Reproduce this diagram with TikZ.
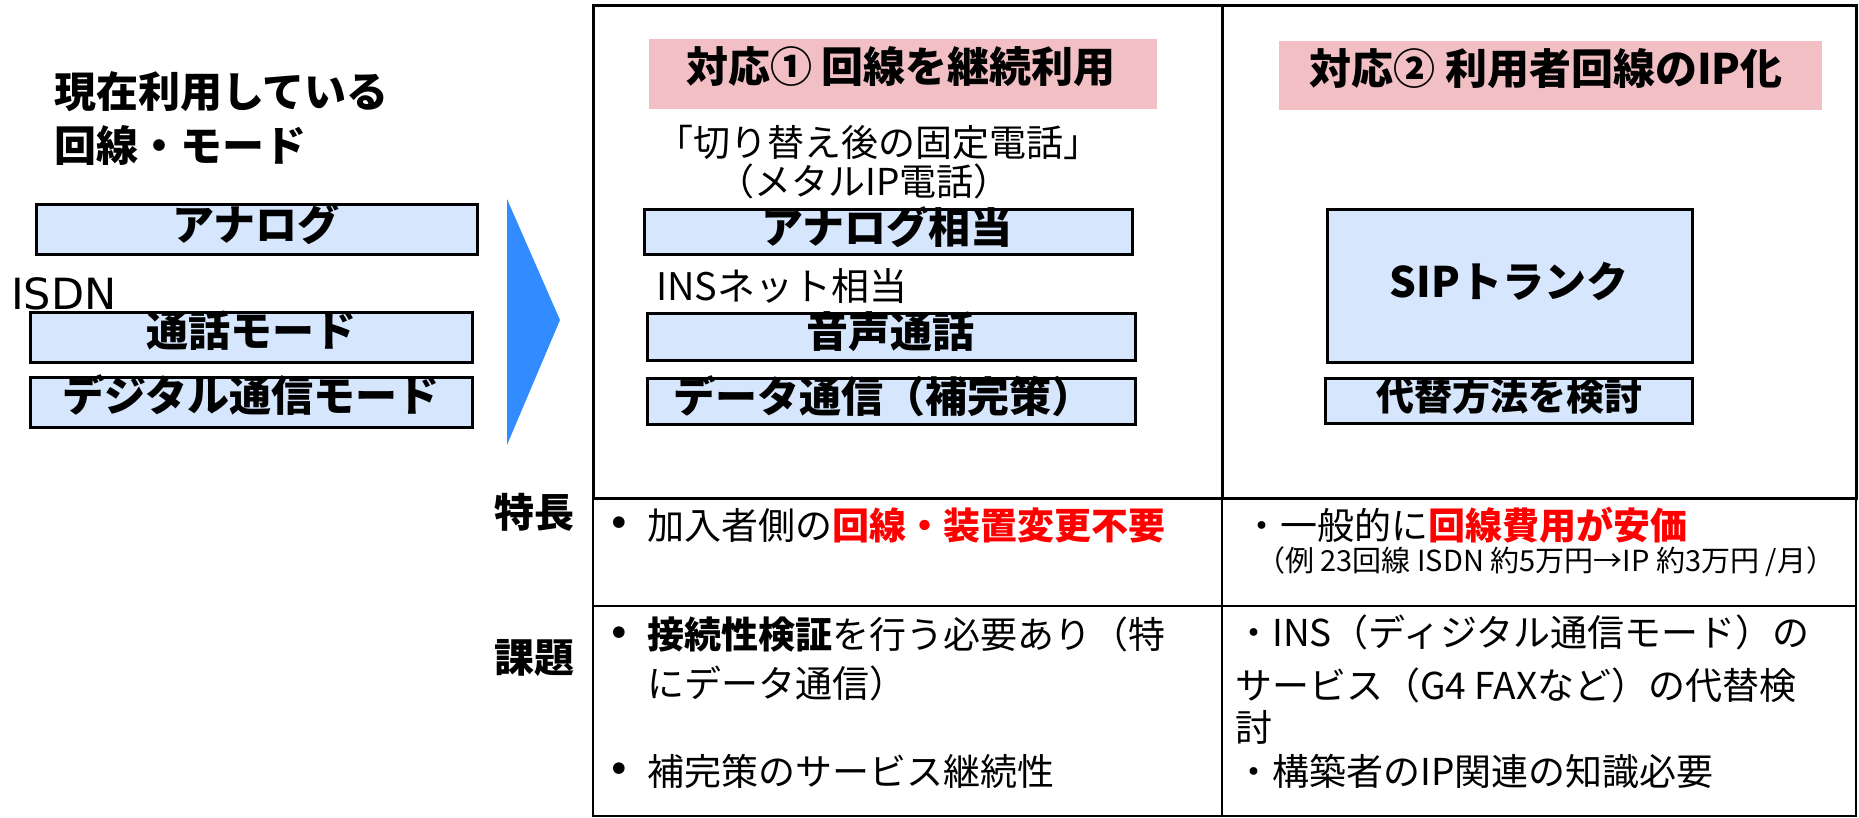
\documentclass[tikz,border=0pt]{standalone}
\usepackage{fontspec}
\setmainfont{Noto Sans CJK JP}
\newfontfamily\latinfont{DejaVu Sans}
\definecolor{boxblue}{RGB}{214,230,252}
\definecolor{titlepink}{RGB}{242,192,196}
\definecolor{arrowblue}{RGB}{51,140,255}
\definecolor{hotred}{RGB}{255,0,0}
\tikzset{
  box/.style={draw=black, line width=3pt, fill=boxblue, inner sep=0pt},
  pinkbox/.style={fill=titlepink, inner sep=0pt},
  btxt/.style={font=\bfseries\fontsize{42}{46}\selectfont, inner sep=0pt},
  stxt/.style={font=\bfseries\fontsize{38}{42}\selectfont, inner sep=0pt},
  rtxt/.style={font=\fontsize{37}{44}\selectfont, inner sep=0pt},
  bul/.style={font=\latinfont\fontsize{40}{44}\selectfont, inner sep=0pt},
  smalltxt/.style={font=\fontsize{29}{33}\selectfont, inner sep=0pt},
  frame/.style={draw=black, line width=3pt},
  grid/.style={draw=black, line width=2pt},
}
\newcommand{\redb}[1]{{\color{hotred}\bfseries #1}}
\begin{document}
\begin{tikzpicture}[x=1pt,y=-1pt]
\useasboundingbox (0,0) rectangle (1859,818);
% table frame
\coordinate (tl) at (593,6);
\coordinate (tm) at (1222,6);
\coordinate (tr) at (1856,6);
\coordinate (ml) at (593,498);
\coordinate (mm) at (1222,498);
\coordinate (mr) at (1856,498);
\coordinate (rl) at (593,606);
\coordinate (rr) at (1856,606);
\coordinate (bl) at (593,816);
\coordinate (bm) at (1222,816);
\coordinate (br) at (1856,816);
\draw[grid] (ml) -- (bl) -- (br) -- (mr);
\draw[grid] (mm) -- (bm);
\draw[grid] (rl) -- (rr);
\draw[frame] (tl) rectangle (mm);
\draw[frame] (tm) rectangle (mr);

% left section
\node[btxt, anchor=west] (cur1) at (54,92) {現在利用している};
\node[btxt, anchor=west] (cur2) at (54,145) {回線・モード};
\node[box, minimum width=441pt, minimum height=50pt] (analog) at (256.5,230) {};
\node[btxt] (analogt) at (256,224) {アナログ};
\node[font=\latinfont\fontsize{43}{46}\selectfont, inner sep=0pt, anchor=west] (isdn) at (11,294) {ISDN};
\node[box, minimum width=442pt, minimum height=50pt] (voice) at (251,337) {};
\node[btxt] (voicet) at (251,331) {通話モード};
\node[box, minimum width=442pt, minimum height=50pt] (digital) at (251,402) {};
\node[btxt] (digitalt) at (251,395) {デジタル通信モード};
\fill[arrowblue] (507,199) coordinate (arrA) -- (560,320) coordinate (arrTip) -- (507,445) coordinate (arrB) -- cycle;

% middle column
\node[pinkbox, minimum width=508pt, minimum height=70pt] (pink1) at (903,74) {};
\node[btxt] (pink1t) at (901,67) {対応① 回線を継続利用};
\node[rtxt] (kirikae) at (878,142) {「切り替え後の固定電話」};
\node[rtxt] (metal) at (864,181) {（メタルIP電話）};
\node[box, minimum width=488pt, minimum height=45pt] (analog2) at (888,232.5) {};
\node[btxt] (analog2t) at (887,227) {アナログ相当};
\node[rtxt, font=\fontsize{38}{44}\selectfont, anchor=west] (ins) at (656,286) {INSネット相当};
\node[box, minimum width=488pt, minimum height=47pt] (onsei) at (891,336.5) {};
\node[btxt] (onseit) at (890,332) {音声通話};
\node[box, minimum width=488pt, minimum height=46pt] (data) at (891,401) {};
\node[btxt] (datat) at (883,396) {データ通信（補完策）};

% right column
\node[pinkbox, minimum width=543pt, minimum height=69pt] (pink2) at (1550.5,75.5) {};
\node[btxt] (pink2t) at (1546,69) {対応② 利用者回線のIP化};
\node[box, minimum width=365pt, minimum height=152pt] (sip) at (1509.5,286) {};
\node[btxt] (sipt) at (1509,281) {SIPトランク};
\node[box, minimum width=367pt, minimum height=45pt] (daitai) at (1508.5,400.5) {};
\node[stxt] (daitait) at (1509,396) {代替方法を検討};

% row labels
\node[btxt, font=\bfseries\fontsize{40}{44}\selectfont] (tokucho) at (534,512) {特長};
\node[btxt, font=\bfseries\fontsize{40}{44}\selectfont] (kadai) at (534,658) {課題};

% feature row
\node[bul] (b1) at (619,527) {•};
\node[rtxt, anchor=west] (f1) at (647,525) {加入者側の\redb{回線・装置変更不要}};
\node[rtxt, anchor=west] (f2) at (1243,525) {・一般的に\redb{回線費用が安価}};
\node[smalltxt, anchor=west] (f3) at (1256,562) {（例 23回線 ISDN 約5万円→IP 約3万円 /月）};

% issue row
\node[bul] (b2) at (619,637) {•};
\node[rtxt, anchor=west] (k1) at (647,635) {\textbf{接続性検証}を行う必要あり（特};
\node[rtxt, anchor=west] (k2) at (647,683) {にデータ通信）};
\node[bul] (b3) at (619,773) {•};
\node[rtxt, anchor=west] (k3) at (647,771) {補完策のサービス継続性};
\node[rtxt, anchor=west] (r1) at (1235,632) {・INS（ディジタル通信モード）の};
\node[rtxt, anchor=west] (r2) at (1235,685) {サービス（G4 FAXなど）の代替検};
\node[rtxt, anchor=west] (r3) at (1235,727) {討};
\node[rtxt, anchor=west] (r4) at (1235,771) {・構築者のIP関連の知識必要};
\end{tikzpicture}
\end{document}
